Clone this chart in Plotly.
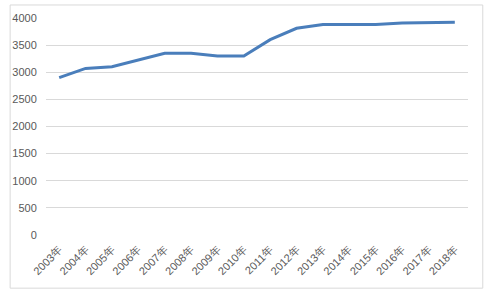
import plotly.graph_objects as go

years = ["2003年", "2004年", "2005年", "2006年", "2007年", "2008年", "2009年", "2010年",
         "2011年", "2012年", "2013年", "2014年", "2015年", "2016年", "2017年", "2018年"]
values = [2900, 3070, 3100, 3230, 3350, 3350, 3300, 3300,
          3600, 3810, 3880, 3880, 3880, 3910, 3910, 3920]
y_ticks = [0, 500, 1000, 1500, 2000, 2500, 3000, 3500, 4000]

fig = go.Figure()
fig.add_trace(go.Scatter(x=years, y=values, mode="lines",
                         line=dict(color="#4a7ebb", width=3), hoverinfo="skip"))

fig.update_layout(
    width=487, height=293,
    margin=dict(l=44, r=19, t=17, b=58),
    paper_bgcolor="white", plot_bgcolor="white",
    showlegend=False,
    font=dict(family="Liberation Sans, Arial, sans-serif", size=11, color="#595959"),
    xaxis=dict(type="category", tickangle=-45, showgrid=False, showline=False,
               ticks="outside", ticklen=3, tickcolor="white",
               tickfont=dict(size=11), range=[-0.5, len(years) - 0.5]),
    yaxis=dict(range=[0, 4000], tickvals=y_ticks, showgrid=True, gridcolor="#d9d9d9",
               gridwidth=1, zeroline=False, showline=False, ticks="outside",
               ticklen=6, tickcolor="white"),
    shapes=[dict(type="rect", xref="paper", yref="paper", x0=-0.085, x1=1.035,
                 y0=-0.245, y1=1.06, line=dict(color="#d9d9d9", width=1))],
)

fig.write_html("out.html")
